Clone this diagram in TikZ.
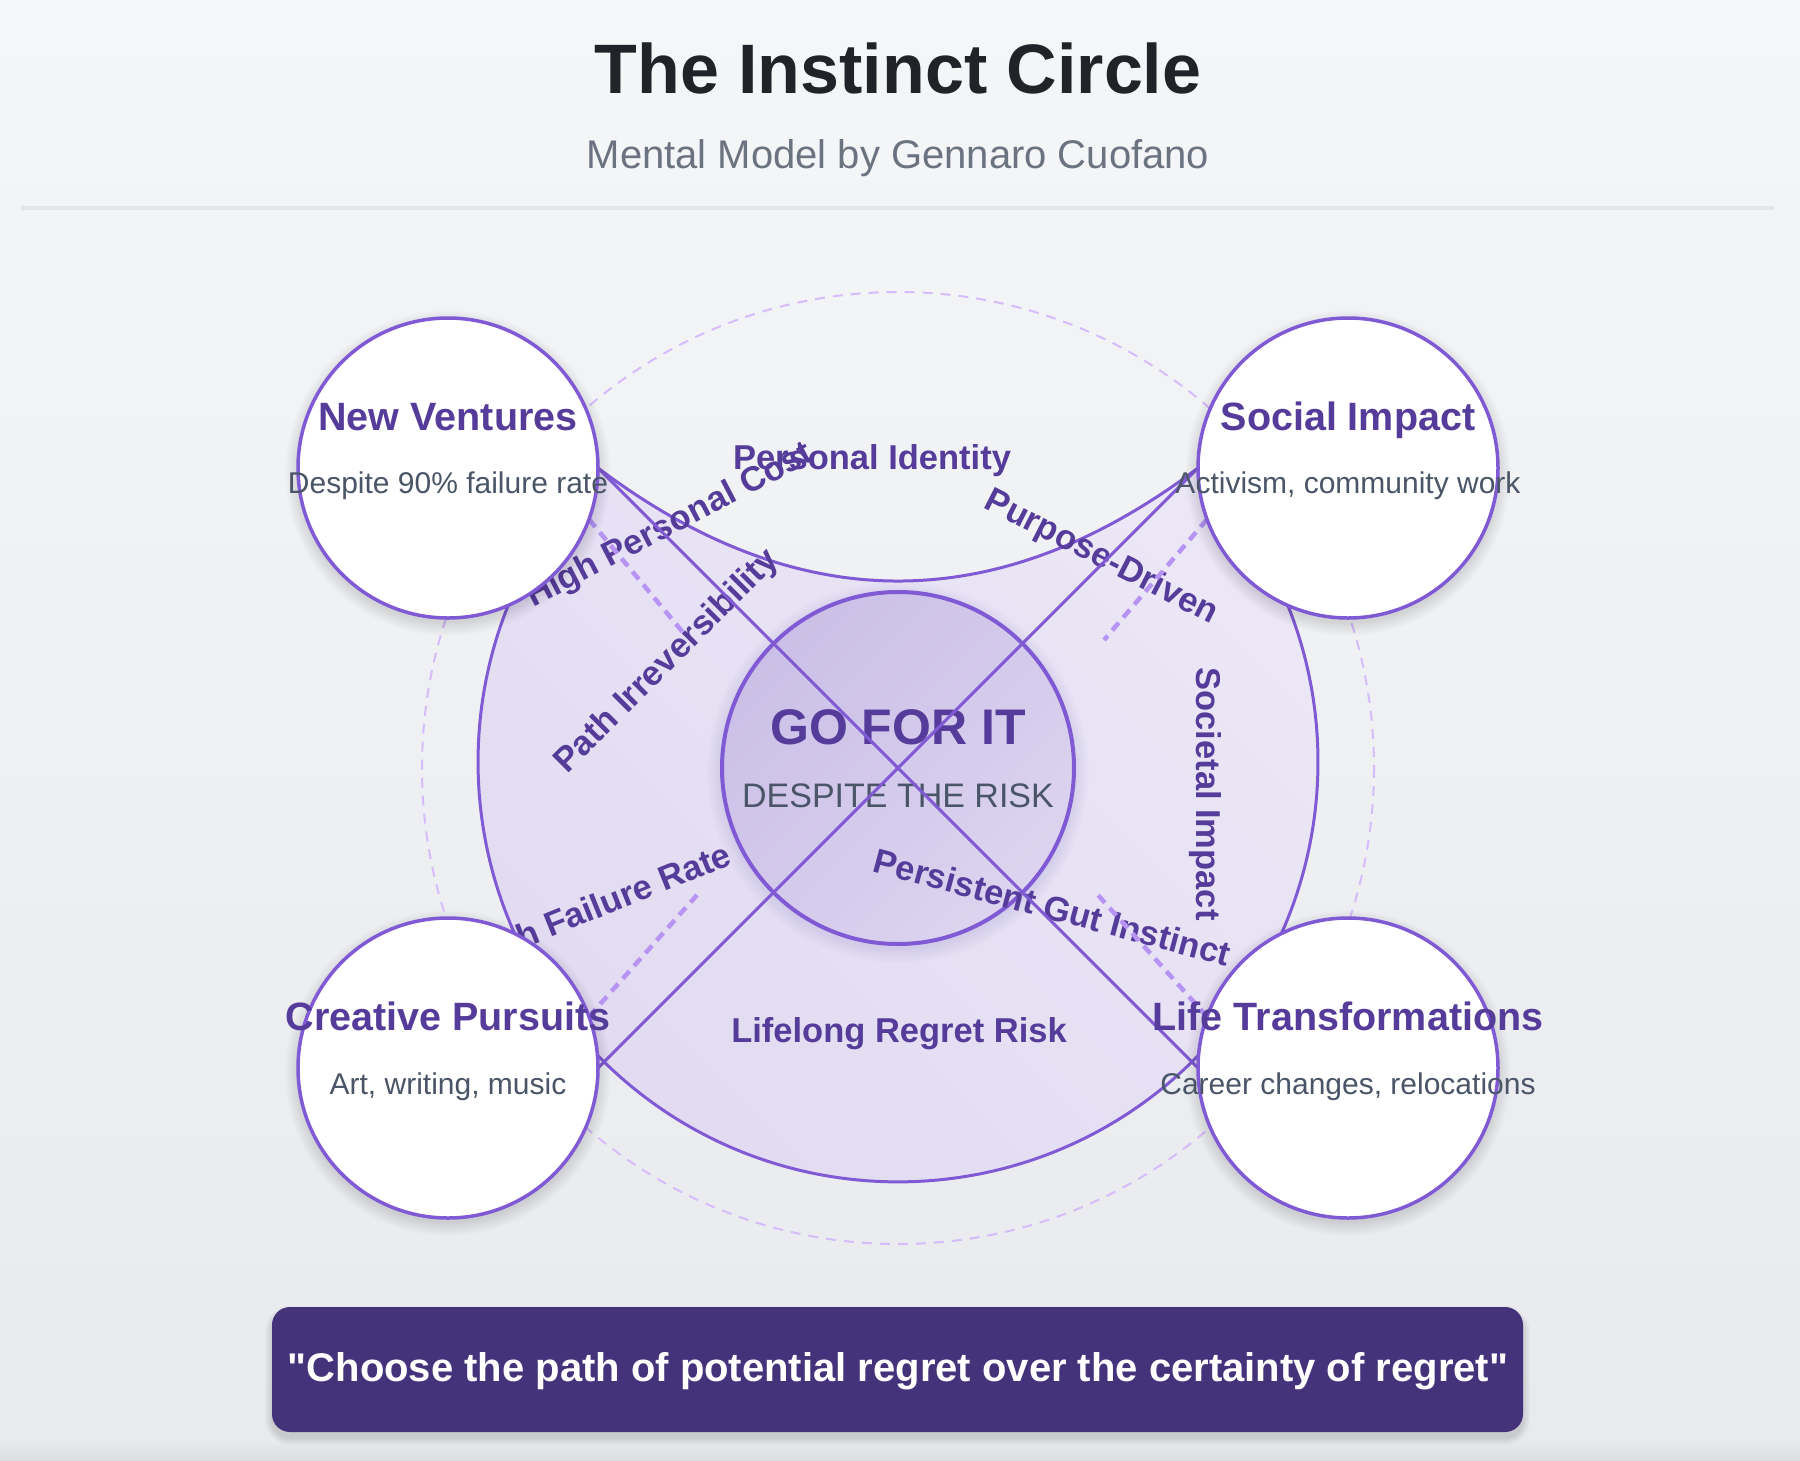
\documentclass[tikz,border=0pt]{standalone}
\usepackage{fontspec}
\setmainfont{Liberation Sans}[Ligatures=TeXOff]
\pgfdeclarelayer{bgl}
\pgfdeclarelayer{lower}
\pgfsetlayers{bgl,lower,main}
\definecolor{purpA}{HTML}{805AD5}
\definecolor{purpD}{HTML}{553C9A}
\definecolor{purpL}{HTML}{B794F4}
\definecolor{purpXL}{HTML}{D6BCFA}
\definecolor{quoteC}{HTML}{44337A}
\definecolor{grayT}{HTML}{4A5568}
\definecolor{grayS}{HTML}{6B7280}
\definecolor{titleC}{HTML}{202328}
\definecolor{ruleC}{HTML}{E2E5EA}
\definecolor{bgTop}{HTML}{F5F6F8}
\definecolor{bgBot}{HTML}{E9EAED}
\definecolor{bgEdge}{HTML}{DCDDE0}
\definecolor{mainLight}{HTML}{EBE7F6}
\definecolor{mainDark}{HTML}{E1DAF1}
\definecolor{cDark}{HTML}{CBBFE7}
\definecolor{cLight}{HTML}{DCD4EF}
\newcommand{\pxf}[1]{\fontsize{#1}{#1}\selectfont}
\begin{document}
\begin{tikzpicture}[x=1pt,y=-1pt,
  outer/.style={circle, draw=purpA, line width=3.5pt, fill=white, minimum size=300pt, inner sep=0pt, outer sep=0pt},
  ntitle/.style={anchor=base, text=purpD, font=\pxf{39.5}\bfseries, inner sep=0pt},
  nsub/.style={anchor=base, text=grayT, font=\pxf{30}, inner sep=0pt},
  lbl/.style={anchor=base, text=purpD, font=\pxf{34.5}\bfseries, inner sep=0pt},
  link/.style={draw=purpA, line width=3pt},
  hint/.style={draw=purpL, line width=4.5pt, dash pattern=on 10pt off 7pt},
]
\useasboundingbox (0,0) rectangle (1800,1460);
\begin{pgfonlayer}{bgl}
  \shade[top color=bgTop, bottom color=bgBot] (0,0) rectangle (1800,1440);
  \shade[top color=bgBot, bottom color=bgEdge] (0,1440) rectangle (1800,1460);
\end{pgfonlayer}

% header
\node[anchor=base, inner sep=0pt, text=titleC, font=\pxf{70}\bfseries] (title) at (898,93) {The Instinct Circle};
\node[anchor=base, inner sep=0pt, text=grayS, font=\pxf{40}] (subtitle) at (898,168) {Mental Model by Gennaro Cuofano};
\fill[ruleC] (21,206) rectangle (1774,210);

% outer nodes
\node[outer] (NV) at (448,468) {};
\node[outer] (SI) at (1348,468) {};
\node[outer] (CP) at (448,1068) {};
\node[outer] (LT) at (1348,1068) {};
\node[ntitle] (NVt) at (448,430) {New Ventures};
\node[nsub] (NVs) at (448,493) {Despite 90\% failure rate};
\node[ntitle] (SIt) at (1348,430) {Social Impact};
\node[nsub] (SIs) at (1348,493) {Activism, community work};
\node[ntitle] (CPt) at (448,1030) {Creative Pursuits};
\node[nsub] (CPs) at (448,1094) {Art, writing, music};
\node[ntitle] (LTt) at (1348,1030) {Life Transformations};
\node[nsub] (LTs) at (1348,1094) {Career changes, relocations};

\begin{pgfonlayer}{lower}
  % outer dashed ring
  \draw[purpXL, line width=2pt, dash pattern=on 10pt off 8pt] (898,768) circle[radius=476];
  % main region
  \path[draw=purpA, line width=3pt, top color=mainLight, bottom color=mainDark, shading angle=-45]
    (NV.east) arc[start angle=224.41, end angle=-44.41, radius=420]
    .. controls (998,618.7) and (798,618.7) .. (NV.east) -- cycle;
  % glow of the centre
  \foreach \k in {1,...,10}{
    \fill[purpD, opacity=0.008] (898,772) circle[radius=176+\k*1.5];
  }
  \node[circle, draw=purpA, line width=4pt, minimum size=352pt, inner sep=0pt, outer sep=0pt,
        top color=cDark, bottom color=cLight, shading angle=45] (GO) at (898,768) {};
  \node[anchor=base, inner sep=0pt, text=purpD, font=\pxf{50}\bfseries] (GOt) at (898,744) {GO FOR IT};
  \node[anchor=base, inner sep=0pt, text=grayT, font=\pxf{34}] (GOs) at (898,807) {DESPITE THE RISK};
  % labels
  \node[lbl] (lPI) at (872,469) {Personal Identity};
  \node[lbl, rotate=27.6] (lHPC) at (674,534) {High Personal Cost};
  \node[lbl, rotate=45] (lPIr) at (674,668) {Path Irreversibility};
  \node[lbl, rotate=-27] (lPD) at (1097,566) {Purpose-Driven};
  \node[lbl, rotate=-90] (lSIm) at (1196,794) {Societal Impact};
  \node[lbl, rotate=22] (lHFR) at (602,917) {High Failure Rate};
  \node[lbl, rotate=-15] (lPGI) at (1049,919) {Persistent Gut Instinct};
  \node[lbl] (lLRR) at (899,1042) {Lifelong Regret Risk};
  % cross links
  \draw[link] (NV.east) -- (LT.west);
  \draw[link] (SI.west) -- (CP.east);
  % dashed hints
  \coordinate (hTL) at (686,636);
  \coordinate (hTR) at (1104,640);
  \coordinate (hBL) at (697,895);
  \coordinate (hBR) at (1098,895);
  \draw[hint] (NV.-20) -- (hTL);
  \draw[hint] (SI.200) -- (hTR);
  \draw[hint] (CP.20) -- (hBL);
  \draw[hint] (LT.160) -- (hBR);
  % soft shadows of the outer circles
  \foreach \cx/\cy in {448/468,1348/468,448/1068,1348/1068}{
    \foreach \k in {0,...,9}{
      \fill[black, opacity=0.012] (\cx,\cy+5) circle[radius=150+\k*1.4];
    }
  }
  % shadow of the quote box
  \foreach \k in {0,...,7}{
    \fill[black, opacity=0.015, rounded corners=18+\k] (272-\k,1313-\k) rectangle (1523+\k,1438+\k);
  }
\end{pgfonlayer}

% quote
\node[fill=quoteC, rounded corners=18pt, minimum width=1251pt, minimum height=125pt, inner sep=0pt, outer sep=0pt] (qbox) at (897.5,1369.5) {};
\node[anchor=base, inner sep=0pt, text=white, font=\pxf{40}\bfseries] (qtext) at (898,1381) {"Choose the path of potential regret over the certainty of regret"};
\end{tikzpicture}
\end{document}
